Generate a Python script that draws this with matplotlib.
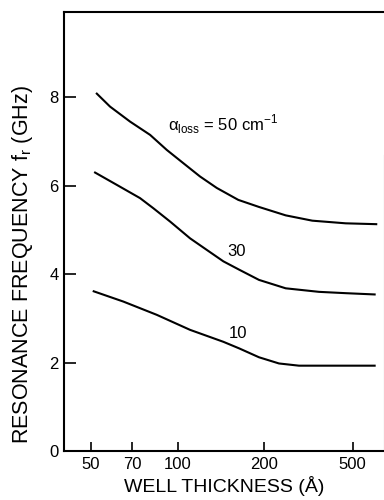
import matplotlib
matplotlib.use("Agg")
import numpy as np
import matplotlib.pyplot as plt
from matplotlib.ticker import FixedLocator, NullLocator

# well thickness (Angstrom) and resonance frequency (GHz)
thick_50 = [52.2, 58.5, 68.9, 80.6, 91.8, 104.6, 119.5, 136.7, 162.4, 191.7, 249.7, 328.9, 465.1, 645.4]
freq_50 = [8.10, 7.79, 7.45, 7.15, 6.81, 6.51, 6.21, 5.95, 5.68, 5.52, 5.33, 5.21, 5.15, 5.13]

thick_30 = [51.4, 61.8, 74.5, 82.7, 94.2, 110.4, 126.1, 144.1, 163.7, 191.7, 249.7, 352.6, 465.1, 634.8]
freq_30 = [6.31, 6.02, 5.72, 5.49, 5.19, 4.81, 4.55, 4.29, 4.10, 3.87, 3.68, 3.60, 3.57, 3.54]

thick_10 = [50.8, 65.2, 84.9, 110.4, 144.1, 163.7, 191.7, 232.9, 286.6, 378.0, 634.8]
freq_10 = [3.62, 3.38, 3.08, 2.74, 2.47, 2.32, 2.12, 1.98, 1.93, 1.93, 1.93]

x_ticks = [50, 70, 100, 200, 500]
x_tick_labels = ["50", "70", "100", "200", "500"]
y_ticks = [0, 2, 4, 6, 8]

# the printed thickness axis is not a clean log scale: the 500 tick sits
# closer to 200 than a log axis would put it. Map log10 values piecewise
# onto where each tick sits on the original axis.
tick_pos = np.array([90.7, 132.0, 177.7, 264.3, 352.7])
log_knots = np.log10(x_ticks)


def interp_ext(v, xp, fp):
    v = np.asarray(v, dtype=float)
    slope_lo = (fp[1] - fp[0]) / (xp[1] - xp[0])
    slope_hi = (fp[-1] - fp[-2]) / (xp[-1] - xp[-2])
    return np.where(v < xp[0], fp[0] + (v - xp[0]) * slope_lo,
                    np.where(v > xp[-1], fp[-1] + (v - xp[-1]) * slope_hi,
                             np.interp(v, xp, fp)))


def forward(x):
    return interp_ext(np.log10(np.clip(x, 1e-3, None)), log_knots, tick_pos)


def inverse(p):
    return 10 ** interp_ext(p, tick_pos, log_knots)


plt.rcParams['font.family'] = ['Liberation Sans', 'DejaVu Sans']

fig = plt.figure(figsize=(3.84, 5.0), dpi=100)
ax = fig.add_axes([0.1667, 0.098, 0.8333, 0.878])

for xs, ys in [(thick_50, freq_50), (thick_30, freq_30), (thick_10, freq_10)]:
    ax.plot(xs, ys, color='black', linewidth=1.5, solid_capstyle='butt',
            solid_joinstyle='round')

ax.set_xscale('function', functions=(forward, inverse))
ax.set_xlim(40.2, 692)
ax.set_ylim(0, 9.93)

ax.xaxis.set_major_locator(FixedLocator(x_ticks))
ax.set_xticklabels(x_tick_labels)
ax.xaxis.set_minor_locator(NullLocator())
ax.set_yticks(y_ticks)

ax.tick_params(axis='x', direction='in', length=6.5, width=1.2, labelsize=12, pad=4.5)
ax.tick_params(axis='y', direction='in', length=8.6, width=1.2, labelsize=12, pad=4)

for s in ['left', 'bottom', 'top']:
    ax.spines[s].set_linewidth(1.5)
ax.spines['right'].set_bounds(0, 6.7)
ax.spines['right'].set_color('0.6')
ax.spines['right'].set_linewidth(0.8)

ax.set_xlabel('WELL THICKNESS (Å)', fontsize=14)
ax.xaxis.set_label_coords(0.5, -0.058)
ax.set_ylabel(r'RESONANCE FREQUENCY f$_\mathregular{r}$ (GHz)', fontsize=15.5)
ax.yaxis.set_label_coords(-0.092, 0.424)

ax.text(92.7, 7.26, r'α$_\mathregular{loss}$ = 50 cm$^\mathregular{-1}$', fontsize=12, va='baseline')
ax.text(148.8, 4.40, '30', fontsize=12, va='baseline')
ax.text(150, 2.55, '10', fontsize=12, va='baseline')

fig.savefig('out.png', dpi=100)
